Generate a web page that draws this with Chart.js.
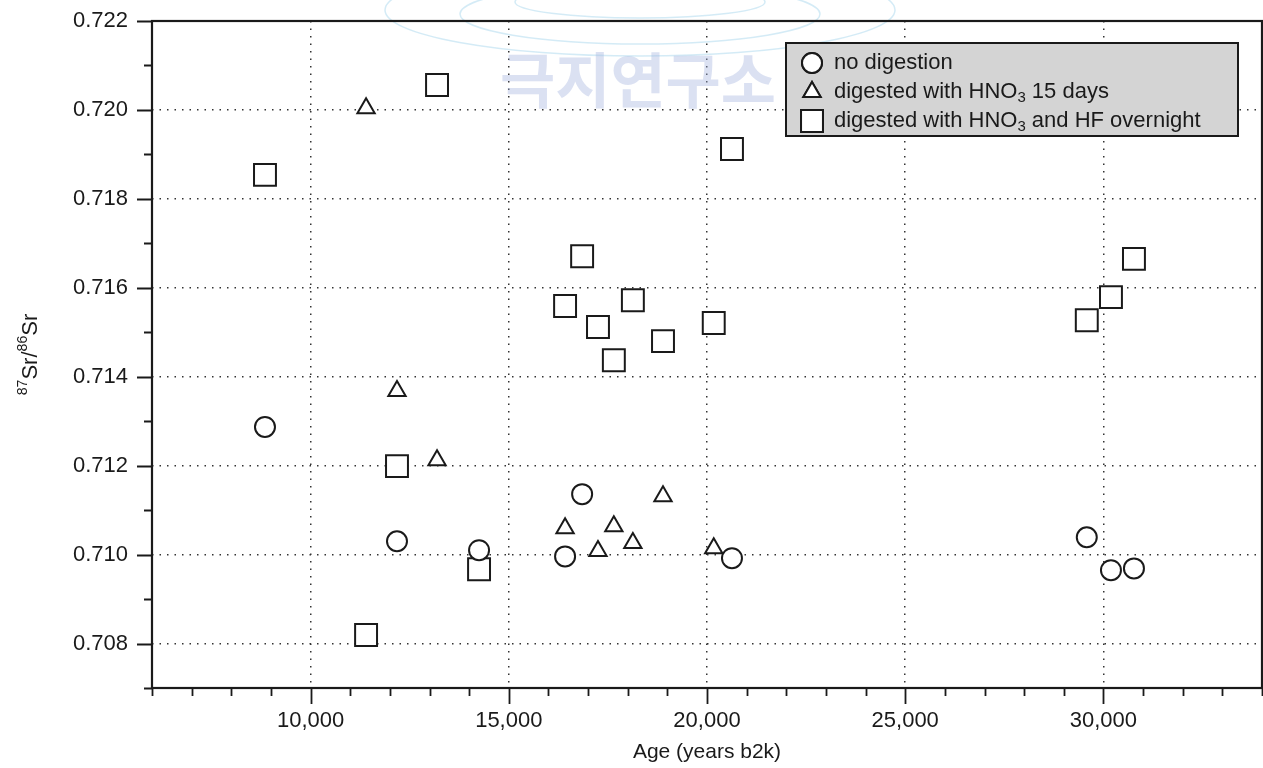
<!DOCTYPE html>
<html>
<head>
<meta charset="utf-8">
<script src="https://cdn.jsdelivr.net/npm/chart.js@4.4.0/dist/chart.umd.min.js"></script>
<style>
  html, body { margin: 0; padding: 0; background: #fff; overflow: hidden; }
  #wrap { position: relative; width: 1263px; height: 768px; }
  #chart { display: block; }
</style>
</head>
<body>
<div id="wrap"><canvas id="chart"></canvas></div>
<script>
// ages in years b2k, ratios are 87Sr/86Sr
const noDigestAge   = [8850, 12180, 14250, 16420, 16850, 20630, 29580, 30190, 30770];
const noDigestSr    = [0.71287, 0.71030, 0.71010, 0.70996, 0.71136, 0.70992, 0.71039, 0.70965, 0.70969];

const hno3Age       = [11400, 12180, 13190, 16420, 17250, 17650, 18130, 18890, 20170];
const hno3Sr        = [0.72004, 0.71368, 0.71212, 0.71059, 0.71008, 0.71064, 0.71026, 0.71131, 0.71014];

const hno3HfAge     = [8850, 11400, 12180, 13190, 14250, 16420, 16850, 17250, 17650, 18130, 18890, 20170, 20630, 29580, 30190, 30770];
const hno3HfSr      = [0.71854, 0.70819, 0.71199, 0.72056, 0.70967, 0.71559, 0.71671, 0.71512, 0.71437, 0.71572, 0.71480, 0.71521, 0.71912, 0.71527, 0.71579, 0.71665];

const seriesLabels  = ['no digestion', 'digested with HNO_3 15 days', 'digested with HNO_3 and HF overnight'];

const xMajorTicks   = [10000, 15000, 20000, 25000, 30000];
const yMajorTicks   = [0.708, 0.710, 0.712, 0.714, 0.716, 0.718, 0.720, 0.722];
const xMin = 6000, xMax = 34000, xMinorStep = 1000;
const yMin = 0.707, yMax = 0.722, yMinorStep = 0.001;

const FONT = '"Liberation Sans", Arial, Helvetica, sans-serif';
const INK = '#1a1a1a';

const toPoints = (xs, ys) => xs.map((x, i) => ({ x: x, y: ys[i] }));
const plainLabel = s => s.replace(/_3/g, '\u2083');

const isMajorX = v => xMajorTicks.some(t => Math.abs(t - v) < 1);
const isMajorY = v => yMajorTicks.some(t => Math.abs(t - v) < 1e-7);

// draw text with _n subscripts / ^n superscripts
function richText(ctx, str, x, y, size, measureOnly) {
    const parts = str.split(/([_^]\d+)/).filter(p => p.length);
    let w = 0;
    parts.forEach(p => {
        let txt = p, fs = size, dy = 0;
        if (p[0] === '_') { txt = p.slice(1); fs = size * 0.68; dy = size * 0.28; }
        if (p[0] === '^') { txt = p.slice(1); fs = size * 0.64; dy = -size * 0.38; }
        ctx.font = fs + 'px ' + FONT;
        if (!measureOnly) ctx.fillText(txt, x + w, y + dy);
        w += ctx.measureText(txt).width;
    });
    return w;
}

// no extra room for edge labels, the plot box is fixed
const noPad = s => { s.paddingLeft = 0; s.paddingRight = 0; s.paddingTop = 0; s.paddingBottom = 0; };

const decor = {
    id: 'decor',
    beforeDatasetsDraw(chart) {
        const ctx = chart.ctx;
        // faint library watermark
        ctx.save();
        ctx.strokeStyle = 'rgba(160, 210, 235, 0.45)';
        ctx.lineWidth = 1.5;
        [[640, 10, 255, 46], [640, 14, 180, 30], [640, 2, 125, 16]].forEach(e => {
            ctx.beginPath();
            ctx.ellipse(e[0], e[1], e[2], e[3], 0, 0, Math.PI * 2);
            ctx.stroke();
        });
        ctx.font = 'bold 60px "Noto Sans CJK KR", sans-serif';
        ctx.fillStyle = 'rgba(160, 175, 220, 0.38)';
        ctx.textAlign = 'center';
        ctx.textBaseline = 'middle';
        ctx.fillText('극지연구소', 638, 80);
        ctx.restore();
    },
    afterDraw(chart) {
        const ctx = chart.ctx;
        const a = chart.chartArea;
        const xs = chart.scales.x, ys = chart.scales.y;
        ctx.save();
        ctx.strokeStyle = INK;
        ctx.lineWidth = 1.8;

        // tick marks, major and minor
        ctx.beginPath();
        for (let v = xMin; v <= xMax + 1; v += xMinorStep) {
            const px = Math.round(xs.getPixelForValue(v)) + 0.5;
            ctx.moveTo(px, a.bottom);
            ctx.lineTo(px, a.bottom + (isMajorX(v) ? 16 : 8));
        }
        for (let k = 0; yMin + k * yMinorStep <= yMax + 1e-9; k++) {
            const v = yMin + k * yMinorStep;
            const py = Math.round(ys.getPixelForValue(v)) + 0.5;
            ctx.moveTo(a.left, py);
            ctx.lineTo(a.left - (isMajorY(v) ? 15 : 8), py);
        }
        ctx.stroke();

        // frame
        ctx.lineWidth = 2.2;
        ctx.strokeRect(a.left, a.top, a.right - a.left, a.bottom - a.top);

        // axis titles
        ctx.fillStyle = INK;
        ctx.textBaseline = 'middle';
        ctx.textAlign = 'center';
        ctx.font = '21px ' + FONT;
        ctx.fillText('Age (years b2k)', (a.left + a.right) / 2, 752);

        ctx.save();
        ctx.translate(31, (a.top + a.bottom) / 2);
        ctx.rotate(-Math.PI / 2);
        ctx.textAlign = 'left';
        const yTitle = '^87Sr/^86Sr';
        const tw = richText(ctx, yTitle, 0, 0, 22, true);
        richText(ctx, yTitle, -tw / 2, 0, 22, false);
        ctx.restore();

        // legend box
        const lx = 786, ly = 43, lw = 452, lh = 93;
        ctx.fillStyle = '#d4d4d4';
        ctx.fillRect(lx, ly, lw, lh);
        ctx.lineWidth = 2;
        ctx.strokeRect(lx, ly, lw, lh);
        chart.data.datasets.forEach((ds, i) => {
            const cy = ly + 20 + i * 29;
            ctx.strokeStyle = INK;
            ctx.fillStyle = '#ffffff';
            ctx.lineWidth = 2;
            Chart.helpers.drawPoint(ctx, { pointStyle: ds.pointStyle, radius: ds.pointRadius, borderWidth: 2, rotation: 0 }, lx + 26, cy);
            ctx.fill();
            ctx.stroke();
            ctx.fillStyle = INK;
            ctx.textAlign = 'left';
            ctx.textBaseline = 'middle';
            richText(ctx, seriesLabels[i], lx + 48, cy, 22, false);
        });
        ctx.restore();
    }
};

const pointCommon = {
    showLine: false,
    borderColor: INK,
    backgroundColor: '#ffffff',
    borderWidth: 2,
    pointBorderWidth: 2
};

new Chart(document.getElementById('chart'), {
    type: 'scatter',
    data: {
        datasets: [
            Object.assign({ label: plainLabel(seriesLabels[0]), data: toPoints(noDigestAge, noDigestSr), pointStyle: 'circle', pointRadius: 10 }, pointCommon),
            Object.assign({ label: plainLabel(seriesLabels[1]), data: toPoints(hno3Age, hno3Sr), pointStyle: 'triangle', pointRadius: 10 }, pointCommon),
            Object.assign({ label: plainLabel(seriesLabels[2]), data: toPoints(hno3HfAge, hno3HfSr), pointStyle: 'rect', pointRadius: 15.5 }, pointCommon)
        ]
    },
    options: {
        responsive: true,
        maintainAspectRatio: false,
        devicePixelRatio: 1,
        animation: false,
        events: [],
        layout: { autoPadding: false, padding: { left: 0, right: 1, top: 21, bottom: 0 } },
        plugins: { legend: { display: false }, tooltip: { enabled: false } },
        scales: {
            x: {
                type: 'linear',
                min: xMin, max: xMax,
                afterFit: s => { s.height = 80; noPad(s); },
                afterBuildTicks: s => { s.ticks = xMajorTicks.map(v => ({ value: v })); },
                ticks: {
                    autoSkip: false, maxRotation: 0, padding: 20,
                    color: INK, font: { family: FONT, size: 22 },
                    callback: v => v.toLocaleString('en-US')
                },
                grid: { drawTicks: false, color: '#333', lineWidth: 1.5, borderDash: [1.5, 6] },
                border: { display: false, dash: [1.5, 6] }
            },
            y: {
                type: 'linear',
                min: yMin, max: yMax,
                afterFit: s => { s.width = 152; noPad(s); },
                afterBuildTicks: s => { s.ticks = yMajorTicks.map(v => ({ value: v })); },
                ticks: {
                    padding: 24,
                    color: INK, font: { family: FONT, size: 22 },
                    callback: v => v.toFixed(3)
                },
                grid: { drawTicks: false, color: '#333', lineWidth: 1.5, borderDash: [1.5, 6] },
                border: { display: false, dash: [1.5, 6] }
            }
        }
    },
    plugins: [decor]
});
</script>
</body>
</html>
